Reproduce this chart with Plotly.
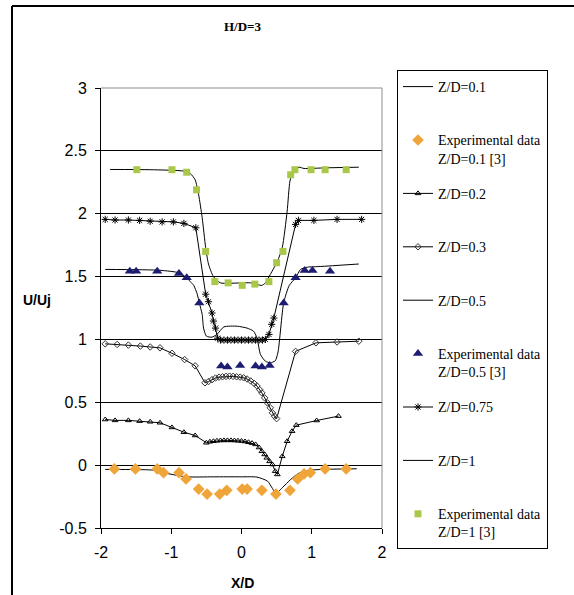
import plotly.graph_objects as go

# ---- axis ticks ----
x_ticks = [-2, -1, 0, 1, 2]
x_tick_labels = ["-2", "-1", "0", "1", "2"]
y_ticks = [-0.5, 0, 0.5, 1, 1.5, 2, 2.5, 3]
y_tick_labels = ["-0.5", "0", "0.5", "1", "1.5", "2", "2.5", "3"]

# ---- computed profiles (X/D, U/Uj) ----
x_zd01 = [-1.94, -1.6, -1.25, -1.06, -0.78, -0.4, 0.0, 0.22, 0.37, 0.44, 0.49, 0.58, 0.70, 0.81, 0.98, 1.3, 1.64]
u_zd01 = [-0.034, -0.035, -0.04, -0.066, -0.093, -0.093, -0.093, -0.095, -0.127, -0.185, -0.225, -0.18, -0.114, -0.066, -0.04, -0.032, -0.029]

x_zd02 = [-1.94, -1.80, -1.61, -1.45, -1.30, -1.16, -0.99, -0.82, -0.66, -0.50,
          -0.45, -0.40, -0.35, -0.30, -0.25, -0.20, -0.15, -0.10, -0.05, 0.00,
          0.05, 0.10, 0.15, 0.20, 0.25, 0.29, 0.33, 0.36, 0.40, 0.44,
          0.48, 0.51, 0.58, 0.65, 0.72, 0.78, 1.07, 1.38]
u_zd02 = [0.363, 0.356, 0.356, 0.350, 0.345, 0.337, 0.300, 0.262, 0.236, 0.178,
          0.186, 0.190, 0.194, 0.196, 0.197, 0.197, 0.197, 0.196, 0.194, 0.192,
          0.188, 0.182, 0.175, 0.165, 0.140, 0.110, 0.085, 0.058, 0.030, 0.005,
          -0.048, -0.074, 0.07, 0.19, 0.27, 0.318, 0.355, 0.39]

x_zd03 = [-1.94, -1.77, -1.61, -1.44, -1.30, -1.16, -0.99, -0.81, -0.66, -0.52,
          -0.47, -0.42, -0.37, -0.32, -0.27, -0.22, -0.17, -0.12, -0.07, -0.02,
          0.03, 0.08, 0.13, 0.18, 0.22, 0.26, 0.29, 0.33, 0.37, 0.41,
          0.44, 0.47, 0.50, 0.77, 1.06, 1.36, 1.67]
u_zd03 = [0.965, 0.960, 0.955, 0.947, 0.940, 0.933, 0.890, 0.840, 0.790, 0.655,
          0.665, 0.680, 0.693, 0.700, 0.703, 0.706, 0.708, 0.706, 0.703, 0.700,
          0.695, 0.685, 0.670, 0.650, 0.630, 0.600, 0.575, 0.535, 0.495, 0.456,
          0.416, 0.39, 0.37, 0.905, 0.973, 0.980, 0.986]

x_zd05 = [-1.94, -1.16, -0.89, -0.78, -0.73, -0.68, -0.63, -0.60, -0.56, -0.54, -0.50,
          -0.42, -0.35, -0.25, -0.06, 0.08, 0.17, 0.22, 0.27, 0.34, 0.41, 0.48,
          0.52, 0.60, 0.68, 0.77, 0.84, 0.94, 1.12, 1.67]
u_zd05 = [1.557, 1.55, 1.53, 1.49, 1.46, 1.43, 1.36, 1.29, 1.20, 1.09, 1.026,
          1.018, 1.04, 1.10, 1.105, 1.09, 1.066, 1.013, 0.88, 0.827, 0.814, 0.83,
          0.90, 1.29, 1.43, 1.49, 1.557, 1.575, 1.58, 1.60]

x_zd075 = [-1.94, -1.80, -1.61, -1.45, -1.30, -1.13, -0.97, -0.82, -0.65,
           -0.51, -0.47, -0.42, -0.40, -0.37, -0.34, -0.30,
           -0.25, -0.20, -0.15, -0.10, -0.05, 0.00, 0.05, 0.10, 0.15, 0.20,
           0.25, 0.30, 0.34, 0.39, 0.43, 0.46,
           0.77, 0.81, 1.03, 1.36, 1.71]
u_zd075 = [1.955, 1.950, 1.950, 1.947, 1.940, 1.935, 1.935, 1.923, 1.888,
           1.36, 1.30, 1.21, 1.146, 1.09, 1.01, 0.995,
           0.995, 0.995, 0.995, 0.995, 0.995, 0.995, 0.995, 0.995, 0.995, 0.995,
           0.995, 0.995, 1.0, 1.04, 1.12, 1.17,
           1.915, 1.947, 1.947, 1.955, 1.955]

x_zd1 = [-1.87, -1.3, -0.82, -0.73, -0.66, -0.61, -0.56, -0.51, -0.47, -0.40, -0.30,
         0.0, 0.13, 0.29, 0.34, 0.41, 0.51, 0.58, 0.65, 0.69, 0.74, 0.82, 0.89, 1.2, 1.67]
u_zd1 = [2.352, 2.35, 2.339, 2.32, 2.27, 2.15, 1.97, 1.73, 1.60, 1.50, 1.45,
         1.45, 1.45, 1.43, 1.45, 1.517, 1.62, 1.73, 2.02, 2.26, 2.34, 2.37, 2.36, 2.365, 2.37]

# ---- experimental data [3] ----
x_exp01 = [-1.81, -1.51, -1.20, -1.11, -0.89, -0.79, -0.61, -0.49, -0.31, -0.21,
           0.01, 0.08, 0.29, 0.49, 0.69, 0.80, 0.89, 0.98, 1.19, 1.49]
u_exp01 = [-0.03, -0.03, -0.03, -0.06, -0.06, -0.11, -0.19, -0.23, -0.23, -0.20,
           -0.19, -0.19, -0.20, -0.23, -0.20, -0.11, -0.07, -0.06, -0.03, -0.03]

x_exp05 = [-1.59, -1.50, -1.20, -0.89, -0.78, -0.60, -0.29, -0.20, -0.02,
           0.20, 0.29, 0.40, 0.60, 0.77, 0.90, 1.01, 1.26]
u_exp05 = [1.543, 1.543, 1.543, 1.525, 1.49, 1.29, 0.788, 0.78, 0.793,
           0.788, 0.78, 0.793, 1.29, 1.49, 1.549, 1.549, 1.543]

x_exp1 = [-1.49, -0.99, -0.78, -0.64, -0.51, -0.38, -0.19, 0.01, 0.19,
          0.39, 0.50, 0.59, 0.70, 0.76, 0.99, 1.19, 1.49]
u_exp1 = [2.35, 2.35, 2.33, 2.19, 1.70, 1.46, 1.45, 1.43, 1.44,
          1.46, 1.61, 1.70, 2.31, 2.35, 2.35, 2.35, 2.35]

BLACK = "black"
fig = go.Figure()


def add(name, x, y, **kw):
    # every legend entry gets a two-line slot so the entries are evenly spaced
    label = name if "<br>" in name else name + "<br>&nbsp;"
    fig.add_trace(go.Scatter(x=x, y=y, name=label, legendgroup=name, **kw))


add("Z/D=0.1", x_zd01, u_zd01, mode="lines",
    line=dict(color=BLACK, width=1, shape="spline", smoothing=0.6))
add("Experimental data<br>Z/D=0.1 [3]", x_exp01, u_exp01, mode="markers",
    marker=dict(symbol="diamond", size=9, color="#F0A53A"))
add("Z/D=0.2", x_zd02, u_zd02, mode="lines+markers",
    line=dict(color=BLACK, width=1),
    marker=dict(symbol="triangle-up-open", size=5, color=BLACK, line=dict(width=1)))
add("Z/D=0.3", x_zd03, u_zd03, mode="lines+markers",
    line=dict(color=BLACK, width=1),
    marker=dict(symbol="diamond-open", size=5, color="#333333", line=dict(width=1)))
add("Z/D=0.5", x_zd05, u_zd05, mode="lines",
    line=dict(color=BLACK, width=1, shape="spline", smoothing=0.6))
add("Experimental data<br>Z/D=0.5 [3]", x_exp05, u_exp05, mode="markers",
    marker=dict(symbol="triangle-up", size=9, color="#1C1C70"))
add("Z/D=0.75", x_zd075, u_zd075, mode="lines+markers",
    line=dict(color=BLACK, width=1),
    marker=dict(symbol="asterisk-open", size=6, color=BLACK, line=dict(width=1, color=BLACK)))
add("Z/D=1", x_zd1, u_zd1, mode="lines",
    line=dict(color=BLACK, width=1, shape="spline", smoothing=0.6))
add("Experimental data<br>Z/D=1 [3]", x_exp1, u_exp1, mode="markers",
    marker=dict(symbol="square", size=7, color="#A9C84A"))

# plot area geometry (pixels) used to place frame, legend and labels
W, H = 574, 595
L, R, T, B = 101, 382, 88, 528


def px(x):
    return (x - L) / (R - L)


def py(y):
    return (B - y) / (B - T)


tick_font = dict(family="Liberation Sans, Arial, sans-serif", size=16, color=BLACK)

fig.update_layout(
    width=W, height=H,
    margin=dict(l=L, r=W - R, t=T, b=H - B),
    paper_bgcolor="white", plot_bgcolor="white",
    showlegend=True,
    legend=dict(
        x=px(397), y=py(70), xanchor="left", yanchor="top",
        bordercolor=BLACK, borderwidth=1, bgcolor="white",
        font=dict(family="Liberation Serif, Times New Roman, serif", size=14, color=BLACK),
        tracegroupgap=14, valign="top", traceorder="grouped", maxheight=595,
    ),
    xaxis=dict(
        range=[-2, 2], tickvals=x_ticks, ticktext=x_tick_labels,
        ticks="outside", ticklen=5, tickcolor=BLACK, tickfont=tick_font,
        ticklabelstandoff=5,
        showline=True, linecolor=BLACK, linewidth=1,
        showgrid=False, zeroline=False, fixedrange=True,
    ),
    yaxis=dict(
        range=[-0.5, 3], tickvals=y_ticks, ticktext=y_tick_labels,
        ticks="outside", ticklen=5, tickcolor=BLACK, tickfont=tick_font,
        ticklabelstandoff=5,
        showline=True, linecolor=BLACK, linewidth=1,
        showgrid=True, gridcolor=BLACK, gridwidth=1, zeroline=False, fixedrange=True,
    ),
    shapes=[
        # grey frame on the top and right of the plot area
        dict(type="line", xref="paper", yref="paper", x0=0, x1=1, y0=1, y1=1,
             line=dict(color="#8C8C8C", width=1), layer="above"),
        dict(type="line", xref="paper", yref="paper", x0=1, x1=1, y0=0, y1=1,
             line=dict(color="#8C8C8C", width=1), layer="above"),
        # outer chart frame: top and left edges
        dict(type="line", xref="paper", yref="paper",
             x0=px(12), x1=px(W), y0=py(6), y1=py(6),
             line=dict(color=BLACK, width=2), layer="below"),
        dict(type="line", xref="paper", yref="paper",
             x0=px(12), x1=px(12), y0=py(6), y1=py(H),
             line=dict(color=BLACK, width=2), layer="below"),
    ],
    annotations=[
        dict(text="<b>H/D=3</b>", x=px(243), y=py(27), xref="paper", yref="paper",
             showarrow=False, xanchor="center", yanchor="middle",
             font=dict(family="Liberation Serif, Times New Roman, serif", size=13, color=BLACK)),
        dict(text="<b>U/Uj</b>", x=px(37), y=py(300), xref="paper", yref="paper",
             showarrow=False, xanchor="center", yanchor="middle",
             font=dict(family="Liberation Sans, Arial, sans-serif", size=14, color=BLACK)),
        dict(text="<b>X/D</b>", x=px(242), y=py(583), xref="paper", yref="paper",
             showarrow=False, xanchor="center", yanchor="middle",
             font=dict(family="Liberation Sans, Arial, sans-serif", size=14, color=BLACK)),
    ],
)

fig.write_html("out.html")
